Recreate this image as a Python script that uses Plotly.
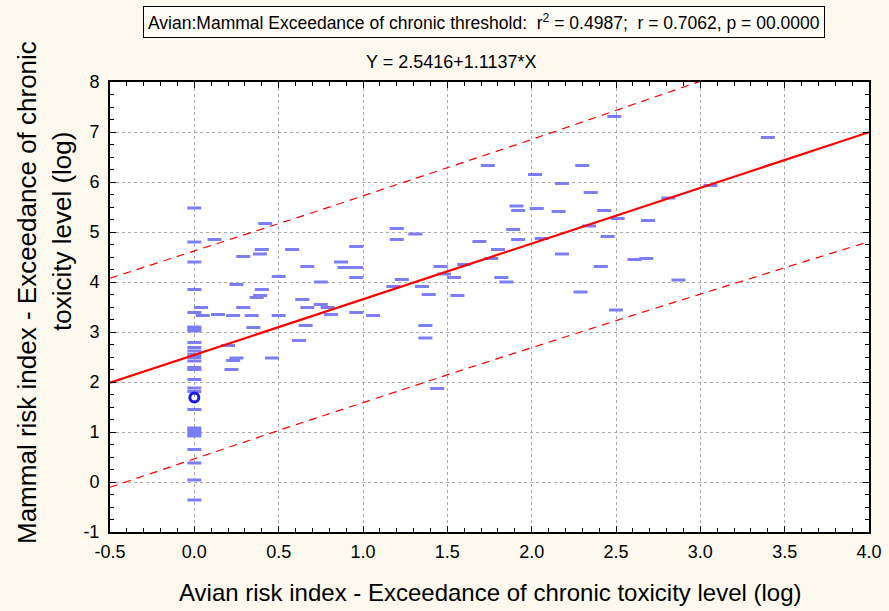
import numpy as np
import plotly.graph_objects as go

# ---------------- data ----------------
zero_col_y = [5.48, 4.80, 4.40, 3.85, 3.39, 3.10, 3.06, 3.02, 2.79, 2.69, 2.62, 2.55,
              2.49, 2.42, 2.29, 2.25, 2.05, 1.88, 1.81, 1.45, 1.08, 1.04, 1.00, 0.96,
              0.92, 0.65, 0.38, 0.04, -0.36]
zero_col_x = [0.0] * len(zero_col_y)

other_x = [0.04, 0.05, 0.14, 0.12, 0.42, 0.23, 0.29, 0.34, 0.50, 0.29, 0.40, 0.39,
           0.58, 0.25, 0.40, 0.39, 0.37, 0.50, 0.67, 0.87, 0.89, 0.75, 0.64, 0.67,
           0.75, 0.79, 0.81, 0.66, 0.62, 0.35, 0.20, 0.25, 0.23, 0.22, 0.46,
           0.96, 0.96, 0.96, 0.96, 1.06, 1.20, 1.20, 1.31, 1.23, 1.18, 1.35, 1.39,
           1.37, 1.37, 1.44, 1.46, 1.48, 1.54, 1.56, 1.60, 1.69, 1.74, 1.76, 1.80,
           1.82, 1.85, 1.91, 1.92, 1.89, 1.92, 2.02, 2.03, 2.06, 2.18, 2.16, 2.18,
           2.30, 2.35, 2.34, 2.29,
           2.49, 2.43, 2.51, 2.45, 2.41, 2.69, 2.61, 2.68, 2.81, 3.06, 2.87, 2.50,
           3.40]
other_y = [3.49, 3.33, 3.35, 4.85, 5.17, 3.33, 3.49, 3.33, 3.33, 4.51, 4.65, 4.56,
           4.65, 3.95, 3.85, 3.73, 3.69, 4.11, 4.31, 4.40, 4.29, 4.00, 3.65, 3.49,
           3.55, 3.49, 3.35, 3.13, 2.83, 3.09, 2.73, 2.48, 2.43, 2.25, 2.48,
           4.29, 4.71, 4.09, 3.39, 3.33, 5.07, 4.85, 4.96, 4.05, 3.91, 3.91, 3.75,
           3.13, 2.88, 1.87, 4.31, 4.16, 4.09, 3.73, 4.35, 4.81, 6.33, 4.47, 4.65,
           4.09, 4.00, 5.52, 5.43, 5.05, 4.85, 6.15, 5.47, 4.87, 5.97, 5.41, 4.56,
           6.33, 5.79, 5.12, 3.80,
           7.31, 5.43, 5.27, 4.91, 4.31, 5.23, 4.45, 4.47, 5.68, 5.93, 4.04, 3.44,
           6.89]

ring_x = [0.0]
ring_y = [1.69]

# regression (from the chart's own annotation) and prediction band parameters
intercept = 2.5416
slope = 1.1137
band_halfwidth = 2.064
band_center = 0.9
band_curv = 0.0131

x_ticks = [-0.5, 0.0, 0.5, 1.0, 1.5, 2.0, 2.5, 3.0, 3.5, 4.0]
y_ticks = [-1, 0, 1, 2, 3, 4, 5, 6, 7, 8]

title_text = ("Avian:Mammal Exceedance of chronic threshold:  r<sup>2</sup> = 0.4987;  "
              "r = 0.7062, p = 00.0000")
eq_text = "Y = 2.5416+1.1137*X"
x_title = "Avian risk index - Exceedance of chronic toxicity level (log)"
y_title_1 = "Mammal risk index - Exceedance of chronic"
y_title_2 = "toxicity level (log)"

# ---------------- figure ----------------
W, H = 889, 611
L, R, T, B = 110, 869, 82, 532
PW, PH = R - L, B - T


def px_x(p):
    return (p - L) / PW


def px_y(p):
    return (B - p) / PH


FONT = "Liberation Sans, Arial, sans-serif"
CREAM = "#fdf9ee"
DASH_COLOR = "#7d7df6"

fig = go.Figure()

xs = np.linspace(x_ticks[0], x_ticks[-1], 200)
fit = intercept + slope * xs
hw = band_halfwidth * np.sqrt(1 + band_curv * (xs - band_center) ** 2)

fig.add_trace(go.Scatter(x=xs, y=fit + hw, mode="lines",
                         line=dict(color="red", width=1.2, dash="8px,6px"),
                         hoverinfo="skip", showlegend=False))
fig.add_trace(go.Scatter(x=xs, y=fit - hw, mode="lines",
                         line=dict(color="red", width=1.2, dash="8px,6px"),
                         hoverinfo="skip", showlegend=False))

fig.add_trace(go.Scatter(x=zero_col_x + other_x, y=zero_col_y + other_y, mode="markers",
                         marker=dict(symbol="line-ew", size=10, color=DASH_COLOR,
                                     line=dict(color=DASH_COLOR, width=3)),
                         showlegend=False))
fig.add_trace(go.Scatter(x=ring_x, y=ring_y, mode="markers",
                         marker=dict(symbol="circle-open", size=9, color="#1a1ae6",
                                     line=dict(color="#1a1ae6", width=3)),
                         showlegend=False))

fig.add_trace(go.Scatter(x=[x_ticks[0], x_ticks[-1]],
                         y=[intercept + slope * x_ticks[0], intercept + slope * x_ticks[-1]],
                         mode="lines", line=dict(color="red", width=2.2),
                         showlegend=False))

axis_common = dict(
    showline=True, linecolor="black", linewidth=2, mirror="allticks",
    ticks="inside", ticklen=6, tickwidth=1.2, tickcolor="black",
    showgrid=True, gridcolor="#aaaaaa", gridwidth=1, griddash="dot",
    zeroline=False, automargin=False,
    tickfont=dict(family=FONT, size=18, color="black"),
)

fig.update_xaxes(range=[x_ticks[0], x_ticks[-1]], tickvals=x_ticks,
                 ticktext=[f"{v:.1f}" for v in x_ticks],
                 minor=dict(dtick=0.1, ticks="inside", ticklen=4, tickcolor="black",
                            showgrid=False),
                 ticklabelstandoff=2, **axis_common)
fig.update_yaxes(range=[y_ticks[0], y_ticks[-1]], tickvals=y_ticks,
                 ticktext=[str(v) for v in y_ticks],
                 minor=dict(dtick=0.25, ticks="inside", ticklen=4, tickcolor="black",
                            showgrid=False),
                 ticklabelstandoff=5, **axis_common)

annotations = [
    dict(text=title_text, x=px_x(484), y=px_y(22), xref="paper", yref="paper",
         xanchor="center", yanchor="middle", showarrow=False,
         font=dict(family=FONT, size=17.5, color="black"),
         bordercolor="black", borderwidth=1, borderpad=4, bgcolor="#fffdf6"),
    dict(text=eq_text, x=px_x(451), y=px_y(62), xref="paper", yref="paper",
         xanchor="center", yanchor="middle", showarrow=False,
         font=dict(family=FONT, size=18, color="black")),
    dict(text=x_title, x=px_x(490), y=px_y(592), xref="paper", yref="paper",
         xanchor="center", yanchor="middle", showarrow=False,
         font=dict(family=FONT, size=24, color="black")),
    dict(text=y_title_1, x=px_x(27), y=px_y(293), xref="paper", yref="paper",
         xanchor="center", yanchor="middle", showarrow=False, textangle=-90,
         font=dict(family=FONT, size=26, color="black")),
    dict(text=y_title_2, x=px_x(62), y=px_y(232), xref="paper", yref="paper",
         xanchor="center", yanchor="middle", showarrow=False, textangle=-90,
         font=dict(family=FONT, size=26, color="black")),
]

fig.update_layout(
    width=W, height=H,
    margin=dict(l=L, r=W - R, t=T, b=H - B, pad=0),
    paper_bgcolor=CREAM, plot_bgcolor="white",
    annotations=annotations,
    showlegend=False,
)

fig.write_html("out.html")
